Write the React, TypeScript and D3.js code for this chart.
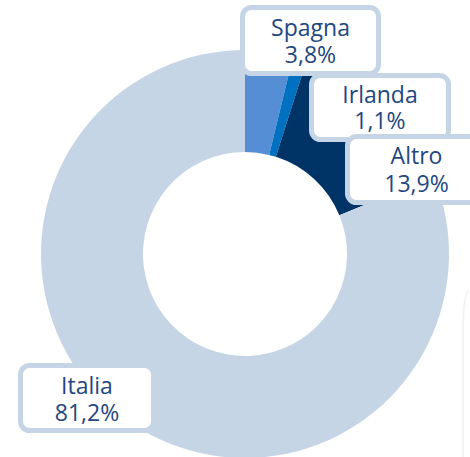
import React from "react";
import * as d3 from "d3";

const categories = ["Spagna", "Irlanda", "Altro", "Italia"];
const values = [3.8, 1.1, 13.9, 81.2];
const colors = ["#558ed5", "#0070c0", "#003366", "#c6d5e5"];

// label box layout (outer bounds) and text baselines
const boxes = [
  { x0: 240, y0: 5, x1: 381, y1: 76, b1: 36, b2: 63 },
  { x0: 309, y0: 73, x1: 451, y1: 142, b1: 103, b2: 129 },
  { x0: 345, y0: 134, x1: 488, y1: 205, b1: 164, b2: 192 },
  { x0: 18, y0: 363, x1: 156, y1: 433, b1: 394, b2: 421 },
];

const W = 470;
const H = 457;
const cx = 245;
const cy = 254;
const R = 204;
const r = 102;
const border = "#c6d5e5";
const textColor = "#23477f";
const sw = 5;

const fmt = (v: number) => v.toFixed(1).replace(".", ",") + "%";

export default function App() {
  const pie = d3
    .pie<number>()
    .sort(null)
    .value((d) => d);
  const arcs = pie(values);
  const arcGen = d3.arc<d3.PieArcDatum<number>>().innerRadius(r).outerRadius(R);
  const drawOrder = [1, 0, 2, 3];
  return (
    <svg
      width={W}
      height={H}
      style={{ position: "absolute", left: 0, top: 0, background: "#fff" }}
    >
      <rect x={0} y={0} width={W} height={H} fill="#fff" />
      <path
        d="M 468 290 Q 463 300 463 330 L 463 457"
        fill="none"
        stroke="#f4f4f4"
        strokeWidth={2}
      />
      <g transform={`translate(${cx},${cy})`}>
        {arcs.map((a, i) => (
          <path key={categories[i]} d={arcGen(a) || ""} fill={colors[i]} />
        ))}
      </g>
      {drawOrder.map((i) => {
        const b = boxes[i];
        const cxT = (b.x0 + b.x1) / 2;
        return (
          <g key={"lab" + i}>
            <rect
              x={b.x0 + sw / 2}
              y={b.y0 + sw / 2}
              width={b.x1 - b.x0 - sw}
              height={b.y1 - b.y0 - sw}
              rx={9}
              ry={9}
              fill="#fff"
              stroke={border}
              strokeWidth={sw}
            />
            <text
              textAnchor="middle"
              fontFamily="'Open Sans', sans-serif"
              fontSize={23}
              fill={textColor}
            >
              <tspan x={cxT} y={b.b1}>
                {categories[i]}
              </tspan>
              <tspan x={cxT} y={b.b2}>
                {fmt(values[i])}
              </tspan>
            </text>
          </g>
        );
      })}
    </svg>
  );
}
